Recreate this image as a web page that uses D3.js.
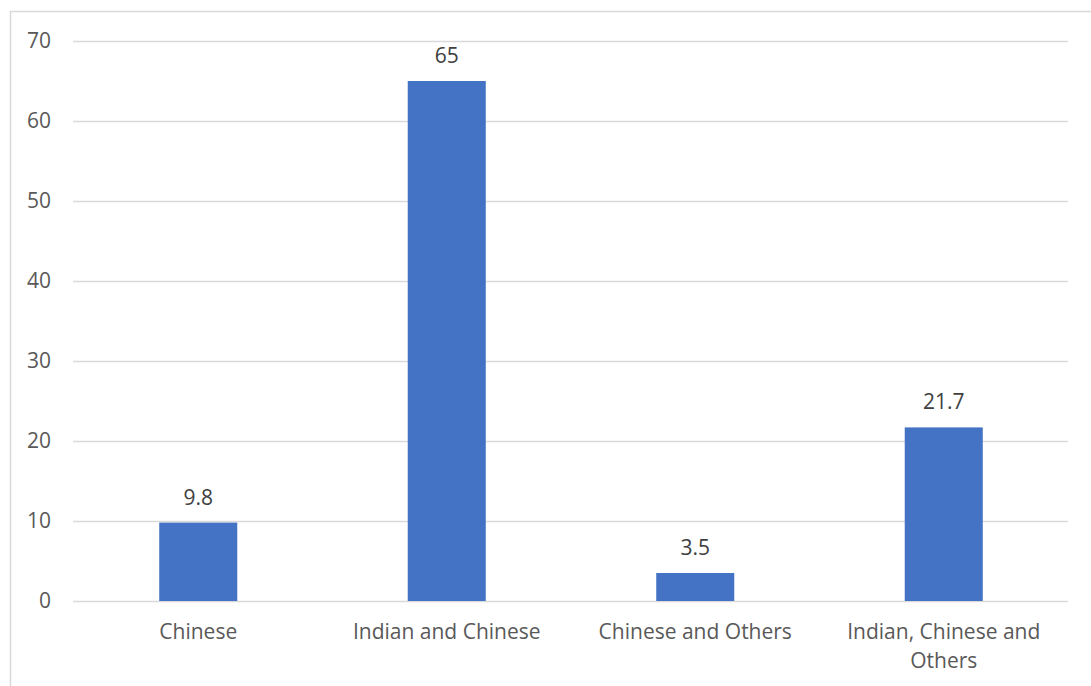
<!DOCTYPE html>
<html>
<head>
<meta charset="utf-8">
<script src="https://cdn.jsdelivr.net/npm/d3@7"></script>
<style>
  html, body { margin: 0; padding: 0; background: #fff; }
  svg { display: block; }
</style>
</head>
<body>
<svg id="chart" width="1091" height="686"></svg>
<script>
const categories = ["Chinese", "Indian and Chinese", "Chinese and Others", "Indian, Chinese and Others"];
const values = [9.8, 65, 3.5, 21.7];
const yTicks = [0, 10, 20, 30, 40, 50, 60, 70];

const svg = d3.select("#chart");
const W = 1091, H = 686;
const font = "'Open Sans', 'Noto Sans', sans-serif";
const fs = 21;

// chart border (left + top, rest clipped)
svg.append("rect")
  .attr("x", 10.5).attr("y", 11.5)
  .attr("width", W + 20).attr("height", H + 20)
  .attr("fill", "#fff").attr("stroke", "#d9d9d9").attr("stroke-width", 1.5);

const x = d3.scaleBand().domain(categories).range([74, 1068]).paddingInner(0.686).paddingOuter(0.343);
const y = d3.scaleLinear().domain([0, 70]).range([601, 41]);

// gridlines
const grid = svg.append("g").attr("transform", "translate(73,0)")
  .call(d3.axisLeft(y).tickValues(yTicks).tickSize(-(1068 - 73)).tickFormat(""));
grid.select(".domain").remove();
grid.selectAll(".tick line").attr("stroke", "#d9d9d9").attr("stroke-width", 1.3);

// y tick labels
const yAxis = svg.append("g").attr("transform", "translate(73,0)")
  .call(d3.axisLeft(y).tickValues(yTicks).tickSize(0).tickPadding(22));
yAxis.select(".domain").remove();
yAxis.selectAll("text")
  .attr("font-family", font).attr("font-size", fs).attr("fill", "#595959");

// bars
svg.append("g").selectAll("rect")
  .data(values)
  .join("rect")
  .attr("x", (d, i) => x(categories[i]))
  .attr("y", d => y(d))
  .attr("width", x.bandwidth())
  .attr("height", d => y(0) - y(d))
  .attr("fill", "#4472c4");

// data labels
svg.append("g").selectAll("text")
  .data(values)
  .join("text")
  .attr("x", (d, i) => x(categories[i]) + x.bandwidth() / 2)
  .attr("y", d => y(d) - 18)
  .attr("text-anchor", "middle")
  .attr("font-family", font).attr("font-size", fs).attr("fill", "#404040")
  .text(d => d);

// x labels (wrapped)
const xLabelLines = [["Chinese"], ["Indian and Chinese"], ["Chinese and Others"], ["Indian, Chinese and", "Others"]];
const xl = svg.append("g").selectAll("text")
  .data(categories)
  .join("text")
  .attr("text-anchor", "middle")
  .attr("font-family", font).attr("font-size", fs).attr("fill", "#595959");
xl.each(function(d, i) {
  const t = d3.select(this);
  xLabelLines[i].forEach((line, j) => {
    t.append("tspan")
      .attr("x", x(d) + x.bandwidth() / 2)
      .attr("y", 639 + j * 29)
      .text(line);
  });
});
</script>
</body>
</html>
